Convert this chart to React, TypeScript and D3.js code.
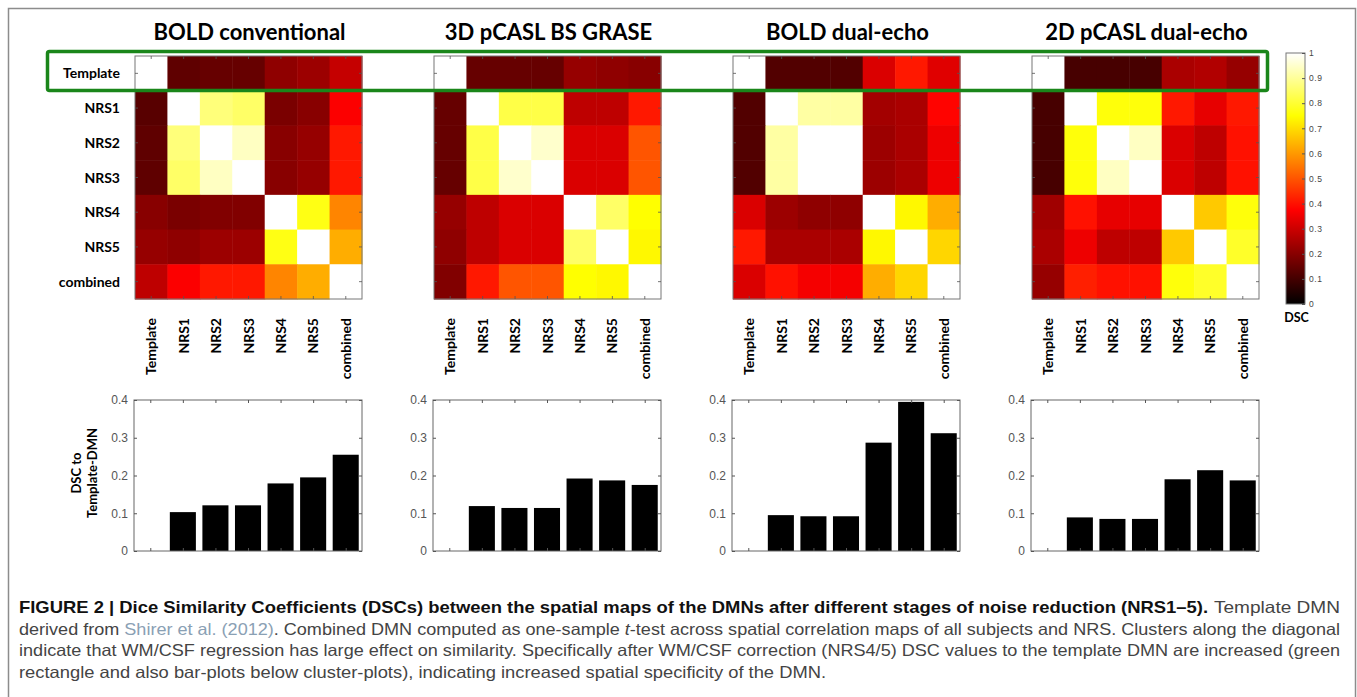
import React, { useEffect, useRef } from "react";
import * as d3 from "d3";

// categories
const labels = ["Template", "NRS1", "NRS2", "NRS3", "NRS4", "NRS5", "combined"];
const titles = ["BOLD conventional", "3D pCASL BS GRASE", "BOLD dual-echo", "2D pCASL dual-echo"];

// DSC matrices (rows / columns follow labels)
const boldConventional = [
  [1.0, 0.14, 0.15, 0.15, 0.21, 0.23, 0.29],
  [0.13, 1.0, 0.87, 0.85, 0.18, 0.2, 0.37],
  [0.14, 0.87, 1.0, 0.94, 0.2, 0.22, 0.41],
  [0.14, 0.85, 0.94, 1.0, 0.2, 0.22, 0.41],
  [0.2, 0.18, 0.19, 0.19, 1.0, 0.77, 0.57],
  [0.22, 0.21, 0.23, 0.23, 0.77, 1.0, 0.63],
  [0.28, 0.37, 0.41, 0.41, 0.57, 0.63, 1.0],
];
const pcaslGrase = [
  [1.0, 0.15, 0.15, 0.15, 0.22, 0.21, 0.2],
  [0.15, 1.0, 0.82, 0.82, 0.28, 0.28, 0.41],
  [0.15, 0.82, 1.0, 0.95, 0.32, 0.32, 0.5],
  [0.15, 0.82, 0.95, 1.0, 0.32, 0.32, 0.5],
  [0.22, 0.28, 0.32, 0.32, 1.0, 0.85, 0.75],
  [0.21, 0.28, 0.32, 0.32, 0.85, 1.0, 0.74],
  [0.19, 0.41, 0.5, 0.5, 0.75, 0.74, 1.0],
];
const boldDualEcho = [
  [1.0, 0.12, 0.12, 0.12, 0.32, 0.41, 0.33],
  [0.12, 1.0, 0.91, 0.91, 0.24, 0.25, 0.38],
  [0.12, 0.91, 1.0, 1.0, 0.23, 0.25, 0.35],
  [0.12, 0.91, 1.0, 1.0, 0.23, 0.25, 0.35],
  [0.32, 0.23, 0.21, 0.21, 1.0, 0.74, 0.63],
  [0.41, 0.25, 0.25, 0.25, 0.74, 1.0, 0.69],
  [0.32, 0.4, 0.36, 0.36, 0.63, 0.69, 1.0],
];
const pcaslDualEcho = [
  [1.0, 0.105, 0.105, 0.105, 0.25, 0.26, 0.22],
  [0.105, 1.0, 0.76, 0.76, 0.41, 0.34, 0.41],
  [0.105, 0.76, 1.0, 0.94, 0.32, 0.28, 0.4],
  [0.105, 0.76, 0.94, 1.0, 0.32, 0.28, 0.4],
  [0.235, 0.4, 0.34, 0.34, 1.0, 0.67, 0.76],
  [0.25, 0.35, 0.28, 0.28, 0.67, 1.0, 0.79],
  [0.22, 0.42, 0.4, 0.4, 0.76, 0.79, 1.0],
];

// DSC to Template-DMN (bar plots)
const barBoldConventional = [0, 0.103, 0.121, 0.121, 0.179, 0.195, 0.255];
const barPcaslGrase = [0, 0.119, 0.114, 0.114, 0.192, 0.187, 0.175];
const barBoldDualEcho = [0, 0.095, 0.092, 0.092, 0.287, 0.395, 0.312];
const barPcaslDualEcho = [0, 0.089, 0.085, 0.085, 0.19, 0.214, 0.187];

const barTicks = [0, 0.1, 0.2, 0.3, 0.4];
const colorbarTicks = [0, 0.1, 0.2, 0.3, 0.4, 0.5, 0.6, 0.7, 0.8, 0.9, 1];

const matrices = [boldConventional, pcaslGrase, boldDualEcho, pcaslDualEcho];
const bars = [barBoldConventional, barPcaslGrase, barBoldDualEcho, barPcaslDualEcho];

const caption = [
  "derived from ",
  "Shirer et al. (2012)",
  ". Combined DMN computed as one-sample ",
  "t",
  "-test across spatial correlation maps of all subjects and NRS. Clusters along the diagonal",
];

const LABEL_FONT = "Lato, 'Open Sans', sans-serif";
const AXIS_FONT = "'Liberation Sans', Arial, sans-serif";

export default function App() {
  const ref = useRef<SVGSVGElement>(null);

  useEffect(() => {
    const svg = d3.select(ref.current);
    svg.selectAll("*").remove();

    // matlab "hot" colormap
    const hot = d3
      .scaleLinear<string>()
      .domain([0, 0.375, 0.75, 1])
      .range(["#000000", "#ff0000", "#ffff00", "#ffffff"])
      .clamp(true);

    // outer frame
    svg
      .append("rect")
      .attr("x", 8.5)
      .attr("y", 8.5)
      .attr("width", 1347)
      .attr("height", 720)
      .attr("fill", "none")
      .attr("stroke", "#8c8c8c")
      .attr("stroke-width", 1.5);

    const step = 299;
    const hmTop = 56;
    const hmBottom = 299;
    const hmWidth = 227;

    matrices.forEach((m, i) => {
      const x0 = 135 + i * step;
      const x = d3.scaleBand().domain(labels).range([x0, x0 + hmWidth]);
      const y = d3.scaleBand().domain(labels).range([hmTop, hmBottom]);
      const g = svg.append("g");

      g.append("text")
        .attr("x", x0 + hmWidth / 2 + 1)
        .attr("y", 40)
        .attr("text-anchor", "middle")
        .attr("font-family", LABEL_FONT)
        .attr("font-weight", 700)
        .attr("font-size", 22)
        .text(titles[i]);

      const cells = m.flatMap((row, r) => row.map((v, c) => ({ r, c, v })));
      g.selectAll("rect.cell")
        .data(cells)
        .enter()
        .append("rect")
        .attr("class", "cell")
        .attr("x", (d) => x(labels[d.c])!)
        .attr("y", (d) => y(labels[d.r])!)
        .attr("width", x.bandwidth() + 0.5)
        .attr("height", y.bandwidth() + 0.5)
        .attr("fill", (d) => hot(d.v));

      g.append("rect")
        .attr("x", x0)
        .attr("y", hmTop)
        .attr("width", hmWidth)
        .attr("height", hmBottom - hmTop)
        .attr("fill", "none")
        .attr("stroke", "#777")
        .attr("stroke-width", 1);

      // inner ticks
      labels.forEach((l) => {
        const cx = x(l)! + x.bandwidth() / 2;
        const cy = y(l)! + y.bandwidth() / 2;
        [
          [cx, hmTop, cx, hmTop + 3],
          [cx, hmBottom, cx, hmBottom - 3],
          [x0, cy, x0 + 3, cy],
          [x0 + hmWidth, cy, x0 + hmWidth - 3, cy],
        ].forEach(([a, b, c, d]) =>
          g.append("line")
            .attr("x1", a).attr("y1", b).attr("x2", c).attr("y2", d)
            .attr("stroke", "#555").attr("stroke-width", 0.8)
        );
      });

      // column labels
      g.selectAll("text.col")
        .data(labels)
        .enter()
        .append("text")
        .attr("class", "col")
        .attr("transform", (d) => `translate(${x(d)! + x.bandwidth() / 2 + 5},318) rotate(-90)`)
        .attr("text-anchor", "end")
        .attr("font-family", LABEL_FONT)
        .attr("font-weight", 700)
        .attr("font-size", 14)
        .text((d) => d);

      if (i === 0) {
        g.selectAll("text.row")
          .data(labels)
          .enter()
          .append("text")
          .attr("class", "row")
          .attr("x", 120)
          .attr("y", (d) => y(d)! + y.bandwidth() / 2 + 5)
          .attr("text-anchor", "end")
          .attr("font-family", LABEL_FONT)
          .attr("font-weight", 700)
          .attr("font-size", 14)
          .text((d) => d);
      }
    });

    // colorbar
    const cbX = 1286;
    const cbW = 19;
    const cy = d3.scaleLinear().domain([0, 1]).range([304, 53]);
    const grad = svg
      .append("defs")
      .append("linearGradient")
      .attr("id", "hotgrad")
      .attr("x1", 0).attr("y1", 1).attr("x2", 0).attr("y2", 0);
    hot.domain().forEach((v) =>
      grad.append("stop").attr("offset", v).attr("stop-color", hot(v))
    );
    svg.append("rect")
      .attr("x", cbX).attr("y", cy(1))
      .attr("width", cbW).attr("height", cy(0) - cy(1))
      .attr("fill", "url(#hotgrad)")
      .attr("stroke", "#777").attr("stroke-width", 1);
    const cbAxis = svg.append("g").attr("transform", `translate(${cbX + cbW},0)`)
      .call(d3.axisRight(cy).tickValues(colorbarTicks).tickSize(-3).tickPadding(4).tickFormat(d3.format("~g")));
    cbAxis.select(".domain").remove();
    cbAxis.selectAll("line").attr("stroke", "#555");
    cbAxis.selectAll("text")
      .attr("font-family", AXIS_FONT).attr("font-size", 8.5).attr("fill", "#444")
      .attr("letter-spacing", 0.6);
    svg.append("text")
      .attr("x", cbX + cbW / 2 + 1).attr("y", 322)
      .attr("text-anchor", "middle")
      .attr("font-family", LABEL_FONT).attr("font-weight", 700).attr("font-size", 12.5)
      .text("DSC");

    // green highlight rectangle
    svg.append("rect")
      .attr("x", 47.5).attr("y", 51.5)
      .attr("width", 1220).attr("height", 39)
      .attr("rx", 2)
      .attr("fill", "none")
      .attr("stroke", "#1a861a")
      .attr("stroke-width", 3.5);

    // bar plots
    bars.forEach((vals, i) => {
      const x0 = 134 + i * step;
      const w = 228;
      const x = d3.scaleBand().domain(labels).range([x0, x0 + w]).paddingInner(0.2).paddingOuter(0.1);
      const y = d3.scaleLinear().domain([0, 0.4]).range([551, 400]);
      const g = svg.append("g");

      g.selectAll("rect.bar")
        .data(vals)
        .enter()
        .append("rect")
        .attr("class", "bar")
        .attr("x", (_, k) => x(labels[k])!)
        .attr("y", (d) => y(d))
        .attr("width", x.bandwidth())
        .attr("height", (d) => y(0) - y(d))
        .attr("fill", "#000");

      g.append("rect")
        .attr("x", x0).attr("y", 400)
        .attr("width", w).attr("height", 151)
        .attr("fill", "none").attr("stroke", "#666").attr("stroke-width", 1);

      const left = g.append("g").attr("transform", `translate(${x0},0)`)
        .call(d3.axisLeft(y).tickValues(barTicks).tickSize(-3).tickPadding(6).tickFormat(d3.format("~g")));
      left.select(".domain").remove();
      left.selectAll("line").attr("stroke", "#555");
      left.selectAll("text").attr("font-family", AXIS_FONT).attr("font-size", 12).attr("fill", "#555");

      const right = g.append("g").attr("transform", `translate(${x0 + w},0)`)
        .call(d3.axisRight(y).tickValues(barTicks).tickSize(-3).tickFormat(() => ""));
      right.select(".domain").remove();
      right.selectAll("line").attr("stroke", "#555");

      const xc = d3.scalePoint().domain(labels).range([x(labels[0])! + x.bandwidth() / 2, x(labels[6])! + x.bandwidth() / 2]);
      const top = g.append("g").attr("transform", "translate(0,400)")
        .call(d3.axisTop(xc).tickSize(-3).tickFormat(() => ""));
      top.select(".domain").remove();
      top.selectAll("line").attr("stroke", "#555");
      const bottom = g.append("g").attr("transform", "translate(0,551)")
        .call(d3.axisBottom(xc).tickSize(-3).tickFormat(() => ""));
      bottom.select(".domain").remove();
      bottom.selectAll("line").attr("stroke", "#555");

      if (i === 0) {
        const yl = g.append("text")
          .attr("transform", "translate(84,473) rotate(-90)")
          .attr("text-anchor", "middle")
          .attr("font-family", LABEL_FONT).attr("font-weight", 700).attr("font-size", 13);
        yl.append("tspan").attr("x", 0).attr("dy", -3).text("DSC to");
        yl.append("tspan").attr("x", 0).attr("dy", 16).text("Template-DMN");
      }
    });

    // caption
    const cap = svg.append("g")
      .attr("font-family", "'Liberation Sans', Arial, sans-serif")
      .attr("font-size", 16.5);
    cap.append("text")
      .attr("x", 19).attr("y", 613)
      .attr("font-weight", 700).attr("fill", "#111")
      .attr("textLength", 1189).attr("lengthAdjust", "spacingAndGlyphs")
      .text("FIGURE 2 | Dice Similarity Coefficients (DSCs) between the spatial maps of the DMNs after different stages of noise reduction (NRS1\u20135).");
    cap.append("text")
      .attr("x", 1214).attr("y", 613).attr("fill", "#444")
      .attr("textLength", 126).attr("lengthAdjust", "spacingAndGlyphs")
      .text("Template DMN");
    const l2 = cap.append("text")
      .attr("x", 19).attr("y", 635).attr("fill", "#444")
      .attr("textLength", 1321).attr("lengthAdjust", "spacingAndGlyphs");
    caption.forEach((s, k) => {
      const t = l2.append("tspan").text(s);
      if (k === 1) t.attr("fill", "#8aa0b4");
      if (k === 3) t.attr("font-style", "italic");
    });
    cap.append("text")
      .attr("x", 19).attr("y", 656).attr("fill", "#444")
      .attr("textLength", 1321).attr("lengthAdjust", "spacingAndGlyphs")
      .text("indicate that WM/CSF regression has large effect on similarity. Specifically after WM/CSF correction (NRS4/5) DSC values to the template DMN are increased (green");
    cap.append("text")
      .attr("x", 19).attr("y", 678).attr("fill", "#444")
      .attr("textLength", 807).attr("lengthAdjust", "spacingAndGlyphs")
      .text("rectangle and also bar-plots below cluster-plots), indicating increased spatial specificity of the DMN.");
  }, []);

  return (
    <div>
      <svg
        ref={ref}
        width={1357}
        height={697}
        style={{ position: "absolute", left: 0, top: 0, background: "#fff" }}
      />
    </div>
  );
}
